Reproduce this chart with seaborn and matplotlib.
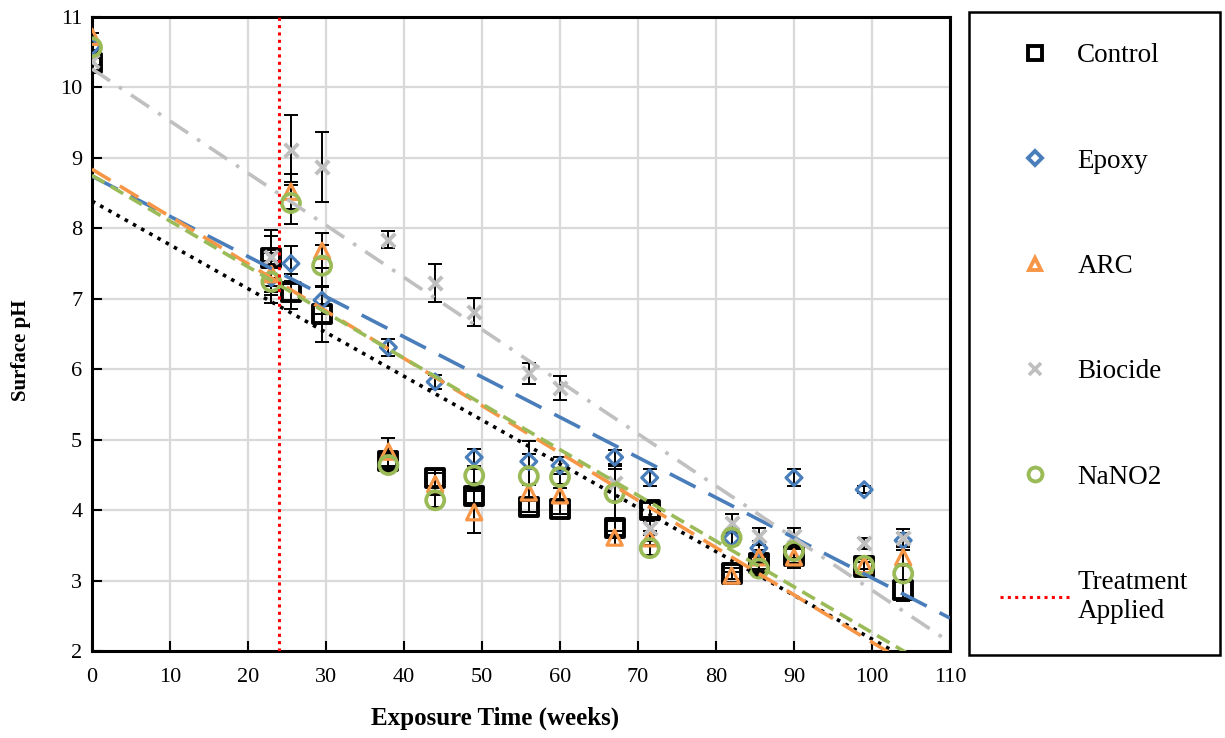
import numpy as np
import pandas as pd
import matplotlib
matplotlib.use("Agg")
import matplotlib.pyplot as plt
from matplotlib.lines import Line2D
import seaborn as sns

weeks = [0, 23, 25.5, 29.5, 38, 44, 49, 56, 60, 67, 71.5, 82, 85.5, 90, 99, 104]

control = [10.35, 7.58, 7.10, 6.78, 4.70, 4.45, 4.20, 4.05, 4.02, 3.75, 4.00, 3.10, 3.25, 3.35, 3.20, 2.86]
epoxy   = [10.58, 7.30, 7.50, 6.98, 6.31, 5.82, 4.75, 4.69, 4.63, 4.75, 4.46, 3.60, 3.46, 4.46, 4.29, 3.57]
arc     = [10.72, 7.35, 8.52, 7.68, 4.83, 4.37, 3.97, 4.25, 4.21, 3.61, 3.60, 3.07, 3.33, 3.33, 3.22, 3.33]
biocide = [10.37, 7.59, 9.11, 8.87, 7.84, 7.23, 6.81, 5.94, 5.74, 4.38, 3.74, 3.82, 3.63, 3.63, 3.53, 3.61]
nano2   = [10.57, 7.24, 8.36, 7.47, 4.64, 4.14, 4.49, 4.48, 4.47, 4.24, 3.46, 3.61, 3.17, 3.42, 3.21, 3.10]

control_err = [0.10, 0.40, 0.25, 0.40, 0.10, 0.12, 0.10, 0.08, 0.08, 0.10, 0.10, 0.08, 0.08, 0.10, 0.10, 0.15]
epoxy_err   = [0.05, 0.20, 0.25, 0.20, 0.12, 0.10, 0.12, 0.10, 0.12, 0.10, 0.12, 0.08, 0.10, 0.12, 0.05, 0.10]
arc_err     = [0.05, 0.30, 0.25, 0.25, 0.20, 0.15, 0.30, 0.10, 0.10, 0.10, 0.10, 0.05, 0.10, 0.15, 0.05, 0.10]
biocide_err = [0.05, 0.30, 0.50, 0.50, 0.12, 0.27, 0.20, 0.15, 0.17, 0.25, 0.10, 0.12, 0.12, 0.12, 0.08, 0.12]
nano2_err   = [0.05, 0.30, 0.30, 0.30, 0.10, 0.10, 0.10, 0.50, 0.10, 0.35, 0.10, 0.10, 0.10, 0.10, 0.05, 0.10]

series_names = ["Control", "Epoxy", "ARC", "Biocide", "NaNO2"]
treatment_week = 24
x_ticks = list(range(0, 111, 10))
y_ticks = list(range(2, 12))

sns.set_theme(style="white")
plt.rcParams["font.family"] = ["Liberation Serif", "DejaVu Serif"]
plt.rcParams["text.color"] = "black"
plt.rcParams["axes.labelcolor"] = "black"
plt.rcParams["xtick.color"] = "black"
plt.rcParams["ytick.color"] = "black"

fig = plt.figure(figsize=(12.25, 7.38), dpi=100)
ax = fig.add_axes([92/1225, 1 - 651/738, (950-92)/1225, (651-17)/738])

styles = {
    "Control": dict(marker="s", color="black", size=170, lw=2.8, trend=(0, (1, 1.6)), tlw=2.6, tcolor="black"),
    "Epoxy":   dict(marker="D", color="#4A7EBB", size=65, lw=2.3, trend=(0, (8, 4)), tlw=2.6, tcolor="#4A7EBB"),
    "ARC":     dict(marker="^", color="#F79646", size=120, lw=2.3, trend=(0, (6, 3)), tlw=2.6, tcolor="#F79646"),
    "Biocide": dict(marker="x", color="#BFBFBF", size=95, lw=2.8, trend=(0, (6, 3, 1, 3)), tlw=2.6, tcolor="#C0C0C0"),
    "NaNO2":   dict(marker="o", color="#9BBB59", size=170, lw=2.7, trend=(0, (4, 2)), tlw=2.6, tcolor="#9BBB59"),
}
values = {"Control": control, "Epoxy": epoxy, "ARC": arc, "Biocide": biocide, "NaNO2": nano2}
errors = {"Control": control_err, "Epoxy": epoxy_err, "ARC": arc_err, "Biocide": biocide_err, "NaNO2": nano2_err}

ax.set_xlim(0, 110)
ax.set_ylim(2, 11)
ax.set_xticks(x_ticks)
ax.set_yticks(y_ticks)
ax.grid(True, color="#D9D9D9", lw=1.6, zorder=0)
ax.set_axisbelow(True)

# error bars
for name in series_names:
    ax.errorbar(weeks, values[name], yerr=errors[name], fmt="none", ecolor="black",
                elinewidth=1.4, capsize=5, capthick=1.4, zorder=2)

# markers
for name in series_names:
    st = styles[name]
    df = pd.DataFrame({"week": weeks, "pH": values[name]})
    if st["marker"] == "x":
        sns.scatterplot(data=df, x="week", y="pH", ax=ax, marker="x", s=st["size"],
                        color=st["color"], linewidth=st["lw"], zorder=3)
    else:
        sns.scatterplot(data=df, x="week", y="pH", ax=ax, marker=st["marker"], s=st["size"],
                        facecolors="none", edgecolor=st["color"], linewidth=st["lw"], zorder=3)

# linear trend lines
xs = np.linspace(0, 110, 200)
for name in series_names:
    st = styles[name]
    slope, intercept = np.polyfit(weeks, values[name], 1)
    ax.plot(xs, slope * xs + intercept, color=st["tcolor"], lw=st["tlw"],
            linestyle=st["trend"], zorder=4)

# treatment line
ax.axvline(treatment_week, color="#FF0000", lw=2.2, linestyle=(0, (1, 1.4)), zorder=5)

ax.set_xlabel("Exposure Time (weeks)", fontsize=18, fontweight="bold")
ax.set_ylabel("Surface pH", fontsize=15, fontweight="bold")
ax.xaxis.set_label_coords((495 - 92) / 858, -(707 - 651) / 634)
ax.yaxis.set_label_coords((31 - 92) / 858, 1 - (350 - 17) / 634)
ax.tick_params(axis="both", direction="in", length=7, width=1.5, labelsize=16,
               colors="black", bottom=True, left=True)
ax.tick_params(axis="x", pad=12)
ax.tick_params(axis="y", pad=7)
for sp in ax.spines.values():
    sp.set_color("black")
    sp.set_linewidth(2.2)

handles = []
for name in series_names:
    st = styles[name]
    if st["marker"] == "x":
        h = Line2D([], [], marker="x", color=st["color"], linestyle="none",
                   markersize=8, markeredgewidth=2.6)
    else:
        msz = {"s": 10, "D": 7, "^": 9, "o": 10}[st["marker"]]
        h = Line2D([], [], marker=st["marker"], color=st["color"], markerfacecolor="none",
                   markeredgecolor=st["color"], markeredgewidth=2.8, linestyle="none", markersize=msz)
    handles.append(h)
handles.append(Line2D([], [], color="#FF0000", lw=2.2, linestyle=(0, (1, 1.4))))
labels = series_names + ["Treatment\nApplied"]

leg = fig.legend(handles, labels, loc="upper left",
                 bbox_to_anchor=(969/1225, 1 - 12/738, (1220-969)/1225, 0.0),
                 mode="expand", fontsize=19.5, frameon=True, fancybox=False,
                 edgecolor="black", framealpha=1, labelspacing=2.97, handlelength=2.55,
                 handletextpad=0.3, borderpad=1.15, borderaxespad=0)
leg.get_frame().set_linewidth(1.8)
for t in leg.get_texts():
    t.set_color("black")

fig.savefig("out.png", dpi=100)
